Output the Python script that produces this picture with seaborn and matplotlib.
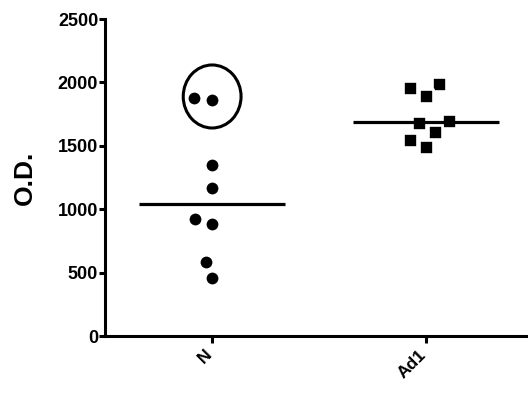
import seaborn as sns
import pandas as pd
import matplotlib.pyplot as plt
import matplotlib.transforms as mtransforms
from matplotlib.patches import Ellipse

groups = ["N", "Ad1"]
n_values = [1861, 1877, 1349, 1167, 923, 883, 584, 457]
ad1_values = [1987, 1893, 1956, 1695, 1680, 1609, 1546, 1490]
y_ticks = [0, 500, 1000, 1500, 2000, 2500]

df = pd.DataFrame({
    "group": ["N"] * len(n_values) + ["Ad1"] * len(ad1_values),
    "od": n_values + ad1_values,
})

sns.set_style("ticks")
plt.rcParams["font.family"] = ["Liberation Sans", "DejaVu Sans"]
plt.rcParams["font.weight"] = "bold"

fig = plt.figure(figsize=(5.28, 3.96), dpi=100)
ax = fig.add_axes([0.199, 0.1515, 0.799, 0.8005])

# white edge widens the swarm spacing without changing the visible dot
markers = {"N": "o", "Ad1": "s"}
for g in groups:
    sns.swarmplot(data=df[df["group"] == g], x="group", y="od", order=groups,
                  marker=markers[g], color="black", size=10.4,
                  edgecolor="white", linewidth=1.9, ax=ax)

# median lines
medians = df.groupby("group")["od"].median()
for i, g in enumerate(groups):
    ax.hlines(medians[g], i - 0.34, i + 0.34, color="black", lw=2.3, zorder=5)

# circle around the two high N points
ax.add_patch(Ellipse((0, 1889), 0.27, 497, fill=False, ec="black", lw=2.2))

ax.set_xlim(-0.5, 1.47)
ax.set_ylim(0, 2500)
ax.set_yticks(y_ticks)
ax.set_xlabel("")
ax.set_ylabel("O.D.", fontsize=19, fontweight="bold", color="black", labelpad=15)
sns.despine(ax=ax)
for s in ["left", "bottom"]:
    ax.spines[s].set_linewidth(2.2)
    ax.spines[s].set_color("black")
ax.tick_params(axis="y", width=2.2, length=4.5, pad=0.5, labelsize=13, colors="black")
ax.tick_params(axis="x", width=2.2, length=5, pad=3, labelsize=12.5, colors="black")
shift = mtransforms.ScaledTranslation(-6 / 72, 0, fig.dpi_scale_trans)
for lab in ax.get_xticklabels():
    lab.set_rotation(45)
    lab.set_ha("right")
    lab.set_rotation_mode("anchor")
    lab.set_fontweight("bold")
    lab.set_transform(lab.get_transform() + shift)
plt.setp(ax.get_yticklabels(), fontweight="bold")

fig.savefig("out.png", dpi=100)
